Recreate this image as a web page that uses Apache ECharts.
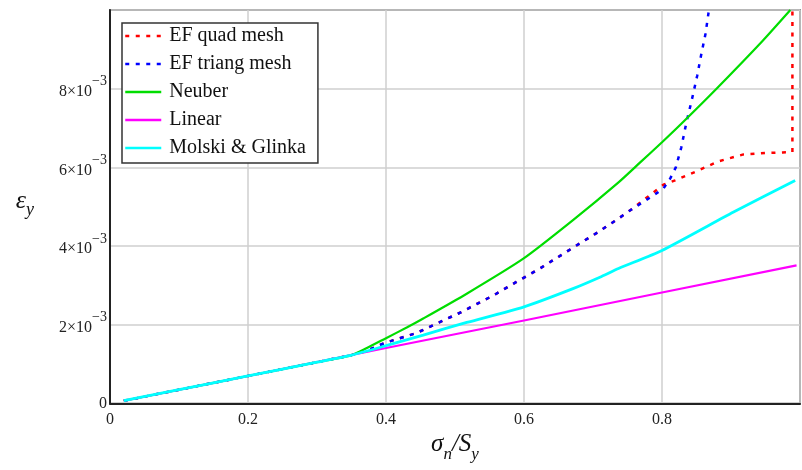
<!DOCTYPE html>
<html>
<head>
<meta charset="utf-8">
<script src="https://cdn.jsdelivr.net/npm/echarts@6/dist/echarts.min.js"></script>
<style>
  html, body { margin: 0; padding: 0; background: #fff; }
  #chart { width: 802px; height: 470px; }
</style>
</head>
<body>
<div id="chart"></div>
<script>
// Normalised nominal stress sigma_n / S_y and local strain (in units of 1e-3)
const quadS = [0.02, 0.1, 0.2, 0.3, 0.35, 0.37, 0.4, 0.444, 0.51, 0.558, 0.589, 0.623, 0.671, 0.705, 0.737, 0.754, 0.785, 0.802, 0.819, 0.85, 0.881, 0.918, 0.952, 0.975, 0.989, 0.989];
const quadE = [0.07, 0.35, 0.70, 1.05, 1.23, 1.33, 1.55, 1.79, 2.33, 2.77, 3.09, 3.43, 3.96, 4.33, 4.70, 4.91, 5.33, 5.56, 5.67, 5.90, 6.15, 6.33, 6.37, 6.38, 6.39, 10.0];

const triS = [0.02, 0.1, 0.2, 0.3, 0.35, 0.37, 0.4, 0.444, 0.51, 0.558, 0.589, 0.623, 0.671, 0.705, 0.737, 0.754, 0.785, 0.802, 0.812, 0.82, 0.828, 0.835, 0.843, 0.851, 0.857, 0.863, 0.868];
const triE = [0.07, 0.35, 0.70, 1.05, 1.23, 1.33, 1.55, 1.79, 2.33, 2.77, 3.09, 3.43, 3.96, 4.33, 4.70, 4.91, 5.26, 5.46, 5.72, 6.00, 6.51, 7.11, 7.70, 8.33, 8.88, 9.39, 10.0];

const neuberS = [0.02, 0.1, 0.2, 0.3, 0.35, 0.37, 0.4, 0.43, 0.454, 0.517, 0.599, 0.671, 0.737, 0.768, 0.8, 0.828, 0.879, 0.946, 0.986];
const neuberE = [0.07, 0.35, 0.70, 1.05, 1.23, 1.39, 1.66, 1.93, 2.16, 2.79, 3.68, 4.66, 5.62, 6.12, 6.64, 7.11, 8.00, 9.22, 10.0];

const linearS = [0.02, 0.2, 0.4, 0.6, 0.8, 0.995];
const linearE = [0.07, 0.70, 1.41, 2.11, 2.82, 3.51];

const mgS = [0.02, 0.1, 0.2, 0.3, 0.35, 0.4, 0.454, 0.517, 0.599, 0.671, 0.71, 0.737, 0.8, 0.903, 0.993];
const mgE = [0.07, 0.35, 0.70, 1.05, 1.23, 1.47, 1.74, 2.06, 2.45, 2.92, 3.21, 3.43, 3.89, 4.86, 5.67];

const seriesNames = ['EF quad mesh', 'EF triang mesh', 'Neuber', 'Linear', 'Molski & Glinka'];

const pairs = (xs, ys) => xs.map((x, i) => [x, ys[i]]);
const serif = 'Liberation Serif, Times New Roman, serif';

const chart = echarts.init(document.getElementById('chart'), null, { renderer: 'canvas' });

function lineSeries(name, data, color, width, dashed, smooth) {
  return {
    name: name,
    type: 'line',
    data: data,
    symbol: 'none',
    smooth: smooth || false,
    animation: false,
    lineStyle: { color: color, width: width, type: dashed ? [4, 6.5] : 'solid' },
    itemStyle: { color: color }
  };
}

// strain tick label: mantissa on the lower line, exponent raised above the gap after "10"
function strainLabel(v) {
  if (v === 0) return '{z|0}';
  return '{p|−3}\n{b|' + v + '×10}{g| }';
}

chart.setOption({
  backgroundColor: '#ffffff',
  animation: false,
  grid: {
    left: 110, right: 2, top: 10, bottom: 66.5,
    show: true, borderColor: '#444', borderWidth: 1.5, backgroundColor: 'transparent'
  },
  legend: {
    orient: 'vertical',
    left: 122, top: 23,
    data: seriesNames,
    itemWidth: 36, itemHeight: 14, itemGap: 8,
    padding: [3, 12, 5, 2],
    borderColor: '#333', borderWidth: 1.5,
    backgroundColor: '#fff',
    itemStyle: { opacity: 0 },
    lineStyle: { width: 2.5 },
    textStyle: { fontFamily: serif, fontSize: 20, color: '#111', lineHeight: 20, padding: [0, 0, 0, 3] }
  },
  xAxis: {
    type: 'value',
    min: 0, max: 1, interval: 0.2,
    name: '{m|σ}{s|n}{m|/S}{s|y}',
    nameLocation: 'middle',
    nameGap: 30,
    nameTextStyle: {
      rich: {
        m: { fontFamily: serif, fontStyle: 'italic', fontSize: 25, lineHeight: 25, padding: [0, 0, 6, 0], verticalAlign: 'bottom', color: '#111' },
        s: { fontFamily: serif, fontStyle: 'italic', fontSize: 17, lineHeight: 17, verticalAlign: 'bottom', color: '#111' }
      }
    },
    axisLine: { show: true, onZero: false, lineStyle: { color: '#222', width: 2 } },
    axisTick: { show: false },
    splitLine: { show: true, lineStyle: { color: '#cfcfcf', width: 1.5 } },
    axisLabel: {
      fontFamily: serif, fontSize: 16, color: '#222', margin: 8,
      showMaxLabel: false,
      formatter: v => String(Math.round(v * 10) / 10)
    }
  },
  yAxis: {
    type: 'value',
    min: 0, max: 10, interval: 2,
    name: '{m|ε}{s|y}',
    nameLocation: 'middle',
    nameRotate: 0,
    nameGap: 76,
    nameTextStyle: {
      rich: {
        m: { fontFamily: serif, fontStyle: 'italic', fontSize: 26, lineHeight: 26, padding: [0, 0, 6, 0], verticalAlign: 'bottom', color: '#111' },
        s: { fontFamily: serif, fontStyle: 'italic', fontSize: 18, lineHeight: 18, verticalAlign: 'bottom', color: '#111' }
      }
    },
    axisLine: { show: true, onZero: false, lineStyle: { color: '#222', width: 2 } },
    axisTick: { show: false },
    splitLine: { show: true, lineStyle: { color: '#cfcfcf', width: 1.5 } },
    axisLabel: {
      showMaxLabel: false,
      margin: 3,
      formatter: strainLabel,
      rich: {
        z: { fontFamily: serif, fontSize: 16, lineHeight: 16, color: '#222' },
        p: { fontFamily: serif, fontSize: 14, lineHeight: 6, color: '#222' },
        b: { fontFamily: serif, fontSize: 16, lineHeight: 14, color: '#222' },
        g: { fontFamily: serif, fontSize: 14, lineHeight: 14, width: 15 }
      }
    }
  },
  series: [
    lineSeries(seriesNames[0], pairs(quadS, quadE), '#ff0000', 2.5, true),
    lineSeries(seriesNames[1], pairs(triS, triE), '#0000ff', 2.5, true),
    lineSeries(seriesNames[2], pairs(neuberS, neuberE), '#00dd00', 2.2, false, 0.2),
    lineSeries(seriesNames[3], pairs(linearS, linearE), '#ff00ff', 2.2, false),
    lineSeries(seriesNames[4], pairs(mgS, mgE), '#00ffff', 2.8, false, 0.2)
  ]
});
</script>
</body>
</html>
